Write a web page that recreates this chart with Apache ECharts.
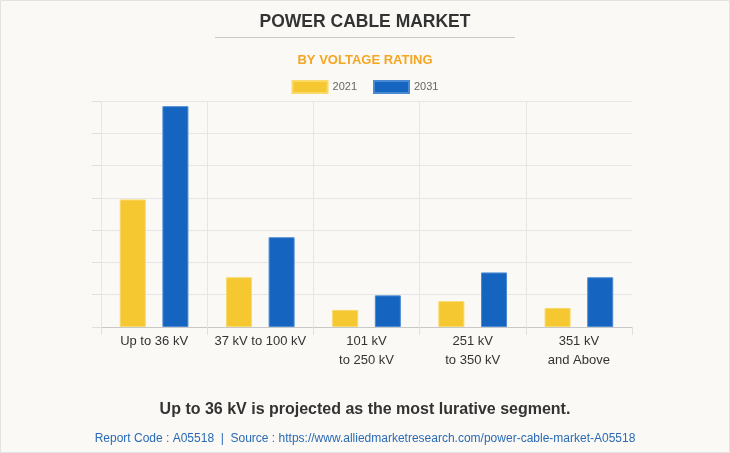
<!DOCTYPE html>
<html>
<head>
<meta charset="utf-8">
<script src="https://cdn.jsdelivr.net/npm/echarts@6/dist/echarts.min.js"></script>
<style>
html,body{margin:0;padding:0;background:#faf9f5;}
#c{width:730px;height:453px;}
</style>
</head>
<body>
<div id="c"></div>
<script>
const categories = ['Up to 36 kV', '37 kV to 100 kV', '101 kV\nto 250 kV', '251 kV\nto 350 kV', '351 kV\nand Above'];
const values2021 = [39.5, 15.4, 5.3, 8.0, 5.9];
const values2031 = [68.4, 27.8, 9.8, 16.9, 15.4];
const seriesNames = ['2021', '2031'];

const chart = echarts.init(document.getElementById('c'), null, {renderer: 'canvas'});
const FONT = 'Arial, "Liberation Sans", sans-serif';
const vLine = '#e6e6e6';
chart.setOption({
  backgroundColor: '#faf9f5',
  animation: false,
  title: [
    {text: 'POWER CABLE MARKET', left: 'center', top: 8,
     textStyle: {fontFamily: FONT, fontSize: 17.5, fontWeight: 'bold', color: '#333'}},
    {text: 'BY VOLTAGE RATING', left: 'center', top: 49,
     textStyle: {fontFamily: FONT, fontSize: 13, fontWeight: 'bold', color: '#f5a623'}},
    {text: 'Up to 36 kV is projected as the most lurative segment.', left: 'center', top: 397,
     textStyle: {fontFamily: FONT, fontSize: 16, fontWeight: 'bold', color: '#333'}},
    {text: 'Report Code : A05518  |  Source : https://www.alliedmarketresearch.com/power-cable-market-A05518', left: 'center', top: 428,
     textStyle: {fontFamily: FONT, fontSize: 12, fontWeight: 'normal', color: '#2a6ab5'}}
  ],
  graphic: [
    {type: 'rect', shape: {x: 0.5, y: 0.5, width: 729, height: 452}, style: {fill: 'none', stroke: '#e2e2e2', lineWidth: 1}, silent: true},
    {type: 'line', shape: {x1: 215, y1: 37.5, x2: 515, y2: 37.5}, style: {stroke: '#c8c8c8', lineWidth: 1}, silent: true}
  ],
  legend: {
    data: seriesNames, top: 75, left: 'center', icon: 'rect',
    itemWidth: 35, itemHeight: 12, itemGap: 16,
    textStyle: {fontFamily: FONT, fontSize: 11, color: '#666'}
  },
  grid: {left: 101, right: 98, top: 101, bottom: 126, containLabel: false},
  xAxis: {
    type: 'category', data: categories,
    axisLine: {lineStyle: {color: '#c8c8c8'}},
    axisTick: {show: true, length: 8, interval: 0, lineStyle: {color: ['#e0e0e0','#e0e0e0','#e0e0e0','#e0e0e0','#e0e0e0','rgba(0,0,0,0)']}},
    splitLine: {show: true, interval: 0, lineStyle: {color: [vLine, vLine, vLine, vLine, vLine, 'rgba(0,0,0,0)']}},
    axisLabel: {fontFamily: FONT, fontSize: 13, color: '#333', margin: 5, lineHeight: 19, interval: 0}
  },
  yAxis: {
    type: 'value', min: 0, max: 70, interval: 10,
    axisLine: {show: false},
    axisTick: {show: true, length: 9, lineStyle: {color: '#e0e0e0'}},
    axisLabel: {show: false},
    splitLine: {show: true, lineStyle: {color: '#e6e6e6'}}
  },
  series: [
    {name: seriesNames[0], type: 'bar', data: values2021, barWidth: 26, barGap: '64%',
     itemStyle: {color: '#f5c730', borderColor: '#f8d96a', borderWidth: 1}},
    {name: seriesNames[1], type: 'bar', data: values2031, barWidth: 26,
     itemStyle: {color: '#1565c0', borderColor: '#4a89d4', borderWidth: 1}}
  ]
});
</script>
</body>
</html>
